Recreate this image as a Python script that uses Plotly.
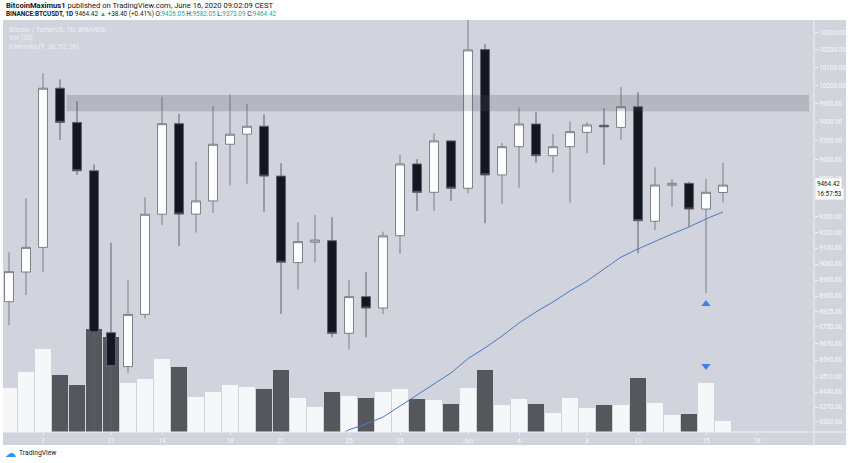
import math

import plotly.graph_objects as go

# daily BTCUSDT candles, May 5 - Jun 16 2020
dates = [
    "2020-05-05", "2020-05-06", "2020-05-07", "2020-05-08", "2020-05-09", "2020-05-10",
    "2020-05-11", "2020-05-12", "2020-05-13", "2020-05-14", "2020-05-15", "2020-05-16",
    "2020-05-17", "2020-05-18", "2020-05-19", "2020-05-20", "2020-05-21", "2020-05-22",
    "2020-05-23", "2020-05-24", "2020-05-25", "2020-05-26", "2020-05-27", "2020-05-28",
    "2020-05-29", "2020-05-30", "2020-05-31", "2020-06-01", "2020-06-02", "2020-06-03",
    "2020-06-04", "2020-06-05", "2020-06-06", "2020-06-07", "2020-06-08", "2020-06-09",
    "2020-06-10", "2020-06-11", "2020-06-12", "2020-06-13", "2020-06-14", "2020-06-15",
    "2020-06-16",
]
opens = [
    8873, 9020, 9144, 9986, 9799, 9540, 8722, 8560, 8811, 9313, 9792, 9314, 9382, 9681,
    9735, 9778, 9512, 9067, 9170, 9178, 8719, 8898, 8842, 9203, 9576, 9427, 9699, 9448,
    10202, 9518, 9668, 9790, 9620, 9668, 9745, 9783, 9772, 9884, 9277, 9464, 9474, 9340,
    9426.05,
]
highs = [
    9119, 9396, 10069, 10035, 9916, 9574, 9168, 8980, 9401, 9939, 9845, 9588, 9888, 9953,
    9901, 9843, 9580, 9272, 9309, 9298, 8980, 9019, 9224, 9627, 9602, 9740, 9700, 10380,
    10232, 9689, 9881, 9854, 9736, 9803, 9799, 9876, 9994, 9964, 9558, 9497, 9482, 9497,
    9582.05,
]
lows = [
    8759, 8906, 9020, 9704, 9518, 8120, 8200, 8531, 8792, 9258, 9151, 9219, 9321, 9462,
    9472, 9326, 8813, 8934, 9069, 8700, 8642, 8700, 8813, 9111, 9330, 9330, 9382, 9422,
    9267, 9366, 9451, 9583, 9530, 9373, 9633, 9571, 9704, 9114, 9232, 9352, 9249, 8915,
    9373.09,
]
closes = [
    9022, 9144, 9986, 9799, 9540, 8722, 8560, 8811, 9313, 9792, 9314, 9382, 9681, 9735,
    9778, 9512, 9069, 9173, 9181, 8719, 8898, 8842, 9202, 9576, 9427, 9699, 9448, 10200,
    9518, 9668, 9790, 9620, 9668, 9749, 9785, 9775, 9884, 9280, 9465, 9474, 9340, 9427,
    9464.42,
]
# volume, thousands of BTC
volumes = [
    62.5, 86.2, 118.7, 81.5, 67.2, 147.3, 135.4, 70.5, 75.8, 104.4, 93.4, 49.6, 56.8, 67.2,
    64.4, 61.5, 88.7, 49.0, 36.2, 57.6, 51.5, 48.2, 56.8, 61.1, 47.6, 46.2, 40.5, 62.9,
    88.7, 38.2, 47.2, 39.6, 27.6, 48.2, 34.3, 38.2, 39.0, 76.8, 41.9, 23.9, 25.7, 70.5,
    15.7,
]

# ichimoku line (visible part)
line_dates = dates[19:]
line_values = [
    8222, 8266, 8292, 8324, 8375, 8426, 8478, 8530, 8598, 8649, 8706, 8769, 8823, 8872,
    8926, 8975, 9035, 9095, 9136, 9176, 9212, 9248, 9289, 9325,
]

price_ticks = [
    10300, 10200, 10100, 10000, 9900, 9800, 9700, 9600, 9500, 9300, 9220, 9140, 9060,
    8980, 8900, 8825, 8750, 8670, 8590, 8510, 8440, 8370, 8302,
]
date_ticks = [
    "2020-05-07", "2020-05-11", "2020-05-14", "2020-05-18", "2020-05-21", "2020-05-25",
    "2020-05-28", "2020-06-01", "2020-06-04", "2020-06-08", "2020-06-11", "2020-06-15",
    "2020-06-18",
]
date_labels = ["7", "11", "14", "18", "21", "25", "28", "Jun", "4", "8", "11", "15", "18"]

band_low, band_high = 9859, 9949
signal_date = "2020-06-15"
signal_up, signal_down = 8862, 8563
last_price = 9464.42
price_range = [8255.6, 10370.4]
volume_max = 589

BG = "#D1D4DC"
FONT = "Roboto"

vol_colors = ["#F6F7F9" if c >= o else "#55575C" for o, c in zip(opens, closes)]

fig = go.Figure()

fig.add_trace(
    go.Bar(
        x=dates,
        y=volumes,
        marker=dict(color=vol_colors, line=dict(width=0)),
        width=0.96 * 86400000,
        yaxis="y",
        showlegend=False,
    )
)

fig.add_trace(
    go.Candlestick(
        x=dates,
        open=opens,
        high=highs,
        low=lows,
        close=closes,
        increasing=dict(fillcolor="#FFFFFF", line=dict(color="#7C7F89", width=1)),
        decreasing=dict(fillcolor="#131722", line=dict(color="#5E616B", width=1)),
        yaxis="y2",
        showlegend=False,
    )
)

fig.add_trace(
    go.Scatter(
        x=line_dates,
        y=line_values,
        mode="lines",
        line=dict(color="#4A78C2", width=1),
        yaxis="y2",
        showlegend=False,
    )
)

fig.add_trace(
    go.Scatter(
        x=[signal_date, signal_date],
        y=[signal_up, signal_down],
        mode="markers",
        marker=dict(symbol=["triangle-up", "triangle-down"], size=8, color="#3F7FE6"),
        yaxis="y2",
        showlegend=False,
    )
)

shapes = [
    # axis strips
    dict(type="rect", xref="paper", yref="paper", x0=1, x1=1.0395, y0=-0.0316, y1=1,
         fillcolor=BG, line_width=0, layer="below"),
    dict(type="rect", xref="paper", yref="paper", x0=0, x1=1, y0=-0.0316, y1=0,
         fillcolor=BG, line_width=0, layer="below"),
    dict(type="line", xref="paper", yref="paper", x0=1, x1=1, y0=-0.0316, y1=1,
         line=dict(color="#EEF0F4", width=1)),
    dict(type="line", xref="paper", yref="paper", x0=0, x1=1.0395, y0=0, y1=0,
         line=dict(color="#EEF0F4", width=1)),
    # resistance band
    dict(type="rect", xref="x", yref="y2", x0="2020-05-08 09:10", x1="2020-06-21 01:26",
         y0=band_low, y1=band_high, fillcolor="rgba(80,83,94,0.22)", line_width=0,
         layer="above"),
]

TEAL = "#26A69A"
header2 = (
    "<b>BINANCE:BTCUSDT, 1D</b> 9464.42 <span style='color:%s'>▲</span> +38.40 (+0.41%%) "
    "O:<span style='color:%s'>9426.05</span> H:<span style='color:%s'>9582.05</span> "
    "L:<span style='color:%s'>9373.09</span> C:<span style='color:%s'>9464.42</span>"
) % (TEAL, TEAL, TEAL, TEAL, TEAL)

LEGEND_FONT = dict(size=6.8, color="#EEF0F4")

annotations = [
    dict(text="<b>BitcoinMaximus1</b> published on TradingView.com, June 16, 2020 09:02:09 CEST",
         x=0.0012, y=1.0364, xanchor="left", yanchor="middle",
         font=dict(size=7.6, color="#131722")),
    dict(text=header2, x=0.0012, y=1.0146, xanchor="left", yanchor="middle",
         font=dict(size=6.4, color="#131722")),
    dict(text="Bitcoin / TetherUS, 1D, BINANCE", x=0.0049, y=0.9769,
         xanchor="left", yanchor="middle", font=LEGEND_FONT),
    dict(text="Vol (20)", x=0.0049, y=0.9551,
         xanchor="left", yanchor="middle", font=LEGEND_FONT),
    dict(text="Ichimoku (9, 26, 52, 26)", x=0.0049, y=0.9333,
         xanchor="left", yanchor="middle", font=LEGEND_FONT),
    dict(text="☁", x=0.0005, y=-0.051, xanchor="left", yanchor="middle",
         font=dict(size=11, color="#2196F3")),
    dict(text="TradingView", x=0.0173, y=-0.051, xanchor="left", yanchor="middle",
         font=dict(size=6.8, color="#131722")),
    # last price labels
    dict(text="%.2f" % last_price, xref="paper", yref="y2", x=1.0, y=math.log10(last_price),
         xanchor="left", yanchor="middle", bgcolor="#FFFFFF", borderpad=1,
         font=dict(size=6.3, color="#131722"), xshift=1, yshift=1),
    dict(text="16:57:53", xref="paper", yref="y2", x=1.0, y=math.log10(last_price),
         xanchor="left", yanchor="middle", bgcolor="#FFFFFF", borderpad=1,
         font=dict(size=6.3, color="#131722"), xshift=1, yshift=-9),
]
for a in annotations:
    a.setdefault("xref", "paper")
    a.setdefault("yref", "paper")
    a.setdefault("showarrow", False)

fig.update_layout(
    width=850,
    height=463,
    margin=dict(l=3, r=36, t=20, b=31, pad=0),
    paper_bgcolor="#FFFFFF",
    plot_bgcolor=BG,
    font=dict(family=FONT),
    boxgap=0.25,
    bargap=0,
    showlegend=False,
    shapes=shapes,
    annotations=annotations,
    xaxis=dict(
        type="date",
        range=["2020-05-04 15:31:46", "2020-06-21 08:28:14"],
        rangeslider=dict(visible=False),
        showgrid=False,
        zeroline=False,
        showline=False,
        tickvals=date_ticks,
        ticktext=date_labels,
        ticks="outside",
        ticklen=2,
        tickcolor="#F0F2F5",
        tickfont=dict(size=6.3, color="#F7F8FA"),
    ),
    yaxis=dict(
        range=[0, volume_max],
        visible=False,
        fixedrange=True,
    ),
    yaxis2=dict(
        type="log",
        overlaying="y",
        side="right",
        range=[math.log10(price_range[0]), math.log10(price_range[1])],
        tickvals=price_ticks,
        ticktext=["%.2f" % v for v in price_ticks],
        ticks="outside",
        ticklen=3,
        tickcolor="#F0F2F5",
        tickfont=dict(size=6.3, color="#F7F8FA"),
        showgrid=False,
        zeroline=False,
        showline=False,
    ),
)

# page body has a default 8px margin; drop it so the figure fills the window
fig.write_html(
    "out.html",
    config={"displayModeBar": False},
    post_script="document.body.style.margin = '0';",
)
